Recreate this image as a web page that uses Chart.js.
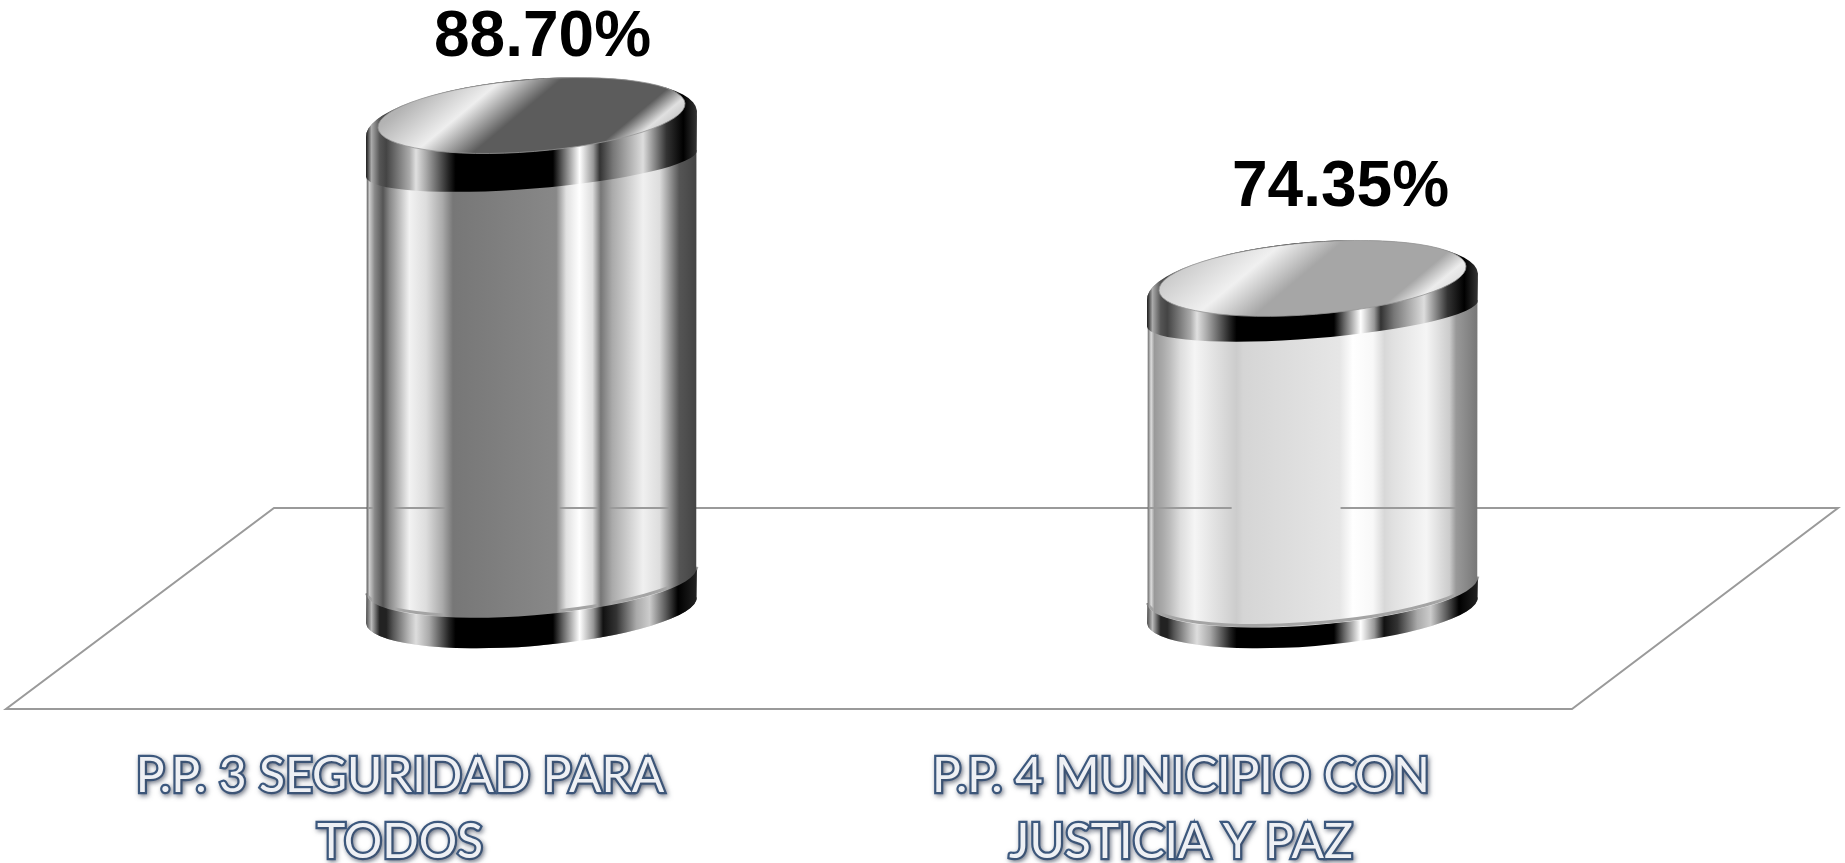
<!DOCTYPE html>
<html><head><meta charset="utf-8">
<style>html,body{margin:0;padding:0;background:#fff;overflow:hidden}canvas{display:block}</style>
<script src="https://cdn.jsdelivr.net/npm/chart.js@4"></script>
</head><body><canvas id="c" width="1845" height="863"></canvas>
<script>
const categories = [["P.P. 3 SEGURIDAD PARA","TODOS"],["P.P. 4 MUNICIPIO CON","JUSTICIA Y PAZ"]];
const values = [88.70, 74.35];
const valueLabels = ["88.70%","74.35%"];
const axisMin = 41.61, axisMax = 98;

// styling and placement
const labelTickPositions = [259,1040];
const labelDx = [11,28], labelDy = [-77,-90];
const BASE_LIFT = 40; // the drawn base ellipse sits above the lower edge of the plot
const bodyStops = [
 [[0,'#555'],[.009,'#ccc'],[.025,'#888'],[.05,'#555'],[.07,'#888'],[.13,'#f2f2f2'],[.18,'#ddd'],[.23,'#aaa'],[.262,'#777'],[.575,'#888'],[.605,'#e0e0e0'],[.645,'#fff'],[.685,'#ddd'],[.71,'#777'],[.745,'#aaa'],[.838,'#f0f0f0'],[.888,'#ddd'],[.933,'#777'],[.948,'#555'],[1,'#444']],
 [[0,'#666'],[.011,'#ddd'],[.021,'#999'],[.047,'#aaa'],[.067,'#bbb'],[.1,'#ddd'],[.143,'#f5f5f5'],[.208,'#e0e0e0'],[.27,'#ccc'],[.29,'#d5d5d5'],[.582,'#e6e6e6'],[.622,'#fff'],[.683,'#f8f8f8'],[.718,'#d8d8d8'],[.743,'#e0e0e0'],[.845,'#f5f5f5'],[.915,'#ccc'],[.935,'#999'],[1,'#777']]
];
const topBandStops = [[0,'#222'],[.015,'#aaa'],[.04,'#555'],[.06,'#444'],[.13,'#aaa'],[.15,'#e0e0e0'],[.18,'#aaa'],[.25,'#222'],[.27,'#000'],[.565,'#000'],[.596,'#666'],[.646,'#fff'],[.687,'#999'],[.707,'#333'],[.747,'#777'],[.838,'#ddd'],[.909,'#333'],[.96,'#000'],[1,'#333']];
const bottomBandStops = [[0,'#555'],[.015,'#bbb'],[.04,'#222'],[.06,'#222'],[.08,'#555'],[.13,'#bbb'],[.15,'#ddd'],[.19,'#aaa'],[.25,'#222'],[.27,'#000'],[.565,'#000'],[.596,'#666'],[.646,'#fff'],[.687,'#999'],[.717,'#111'],[.757,'#333'],[.818,'#aaa'],[.858,'#ccc'],[.909,'#555'],[.944,'#000'],[1,'#222']];
const faceStops = [
 [[0,'#aaa'],[.1,'#b4b4b4'],[.29,'#eee'],[.46,'#5c5c5c'],[.8,'#5c5c5c'],[.88,'#e0e0e0'],[1,'#aaa']],
 [[0,'#bbb'],[.1,'#cfcfcf'],[.29,'#f0f0f0'],[.46,'#a6a6a6'],[.8,'#a6a6a6'],[.88,'#ececec'],[1,'#ccc']]
];
const TILT = -4.6*Math.PI/180;
const FLOOR = {backLeft:133,backRight:135,frontLeft:-135,frontRight:-131,backDy:-142,frontDy:59,color:'#9a9a9a'};

function hGrad(ctx,x0,x1,stops){const g=ctx.createLinearGradient(x0,0,x1,0);stops.forEach(s=>g.addColorStop(s[0],s[1]));return g;}
function geom(el){
  const hw=el.width/2,base=el.base-BASE_LIFT,h=base-el.y;
  return {cx:el.x,hw,y:el.y,base,h,topBand:.08*h,botBand:.06*h};
}
function silhouette(ctx,g){
  ctx.moveTo(g.cx-g.hw,g.y+22);
  ctx.ellipse(g.cx,g.y+8.5,g.hw+1,45,TILT,Math.PI,2*Math.PI,false);
  ctx.lineTo(g.cx+g.hw,g.base-12);
  ctx.ellipse(g.cx,g.base,g.hw+1,36,TILT,0,Math.PI,false);
  ctx.closePath();
}
const cylinders = {
  id:'cylinders',
  beforeDraw(chart){const c=chart.ctx;c.shadowColor='rgba(60,70,90,.55)';c.shadowBlur=5;c.shadowOffsetX=1.5;c.shadowOffsetY=2;},
  beforeDatasetsDraw(chart){
    const c=chart.ctx,a=chart.chartArea;
    c.shadowColor='transparent';c.shadowBlur=0;c.shadowOffsetX=0;c.shadowOffsetY=0;
    c.save();c.strokeStyle=FLOOR.color;c.lineWidth=2;c.beginPath();
    c.moveTo(a.left+FLOOR.backLeft,a.bottom+FLOOR.backDy);
    c.lineTo(a.right+FLOOR.backRight,a.bottom+FLOOR.backDy);
    c.lineTo(a.right+FLOOR.frontRight,a.bottom+FLOOR.frontDy);
    c.lineTo(a.left+FLOOR.frontLeft,a.bottom+FLOOR.frontDy);
    c.closePath();c.stroke();c.restore();
  },
  beforeDatasetDraw(chart,args){
    const c=chart.ctx;c.save();c.beginPath();
    args.meta.data.forEach(el=>silhouette(c,geom(el)));
    c.clip();
  },
  afterDatasetDraw(chart,args){
    const c=chart.ctx,a=chart.chartArea;
    c.restore();
    args.meta.data.forEach((el,i)=>{
      const g=geom(el),L=g.cx-g.hw,W=2*g.hw;
      // floor line seen through the bright stripes of the body
      c.save();c.globalCompositeOperation='darken';c.strokeStyle=FLOOR.color;c.lineWidth=2;c.beginPath();
      const ly=a.bottom+FLOOR.backDy;
      c.moveTo(L,ly);c.lineTo(L+.255*W,ly);c.moveTo(L+.585*W,ly);c.lineTo(L+W,ly);c.stroke();c.restore();
      // bottom band
      c.save();
      const by=g.base-g.botBand;
      c.beginPath();
      c.moveTo(L,by+13);
      c.ellipse(g.cx,by,g.hw+1,35,TILT,Math.PI,0,true);
      c.lineTo(L+W,g.base-12);
      c.ellipse(g.cx,g.base,g.hw+1,36,TILT,0,Math.PI,false);
      c.closePath();
      c.fillStyle=hGrad(c,L,L+W,bottomBandStops);c.fill();
      c.globalCompositeOperation='darken';c.strokeStyle='#a4a4a4';c.lineWidth=3;c.beginPath();
      c.ellipse(g.cx,by-2,g.hw+1,35,TILT,.05,Math.PI-.05,false);c.stroke();
      c.restore();
      // top band
      c.save();
      const tc=g.y+8.5;
      c.beginPath();
      c.ellipse(g.cx,tc,g.hw+1,45,TILT,Math.PI,2*Math.PI,false);
      c.lineTo(L+W,tc+g.topBand-13);
      c.ellipse(g.cx,tc+g.topBand,g.hw+1,25,TILT,0,Math.PI,false);
      c.closePath();
      c.fillStyle=hGrad(c,L,L+W,topBandStops);c.fill();
      // top face
      const dx=.64,dy=.77,e=110;
      const fg=c.createLinearGradient(g.cx-dx*e,g.y-dy*e,g.cx+dx*e,g.y+dy*e);
      faceStops[i].forEach(s=>fg.addColorStop(s[0],s[1]));
      c.beginPath();c.ellipse(g.cx,g.y,g.hw-11,36,TILT,0,2*Math.PI);
      c.fillStyle=fg;c.fill();
      c.strokeStyle='rgba(150,150,150,.8)';c.lineWidth=1;c.stroke();
      c.restore();
    });
  },
  afterDatasetsDraw(chart){
    const c=chart.ctx;
    c.save();c.font='bold 64px "Liberation Sans"';c.fillStyle='#000';c.textAlign='center';c.textBaseline='middle';
    chart.getDatasetMeta(0).data.forEach((el,i)=>c.fillText(valueLabels[i],el.x+labelDx[i],el.y+labelDy[i]));
    c.restore();
  }
};
new Chart(document.getElementById('c'),{
  type:'bar',
  data:{labels:categories.map(l=>l.join(' ')),datasets:[{
    data:values,base:axisMin,
    barPercentage:.4225,categoryPercentage:1,borderWidth:0,
    backgroundColor(ctx){
      const ch=ctx.chart;if(!ch.chartArea||ctx.dataIndex===undefined)return '#888';
      const x=ch.scales.x.getPixelForValue(ctx.dataIndex),hw=165;
      return hGrad(ch.ctx,x-hw,x+hw,bodyStops[ctx.dataIndex]);
    }
  }]},
  options:{
    responsive:false,animation:false,
    layout:{padding:{left:141,right:142,top:10,bottom:0}},
    plugins:{legend:{display:false},tooltip:{enabled:false},title:{display:false}},
    scales:{
      x:{display:false,type:'category',grid:{display:false}},
      y:{display:false,min:axisMin,max:axisMax,grid:{display:false}},
      labelAxis:{
        type:'linear',axis:'x',position:'bottom',min:0,max:1562,offset:false,
        grid:{display:false,drawTicks:false,offset:false},border:{display:false},
        afterBuildTicks(s){s.ticks=labelTickPositions.map(v=>({value:v}));},
        afterFit(s){s.height=213;s.paddingLeft=0;s.paddingRight=0;},
        ticks:{
          callback:(v,i)=>categories[i],
          autoSkip:false,maxRotation:0,minRotation:0,padding:93,
          color:'#eef0f4',textStrokeColor:'#3d5a80',textStrokeWidth:4.5,
          font:{family:'Lato',size:48,weight:'400',lineHeight:1.38}
        }
      }
    }
  },
  plugins:[cylinders]
});
</script></body></html>
